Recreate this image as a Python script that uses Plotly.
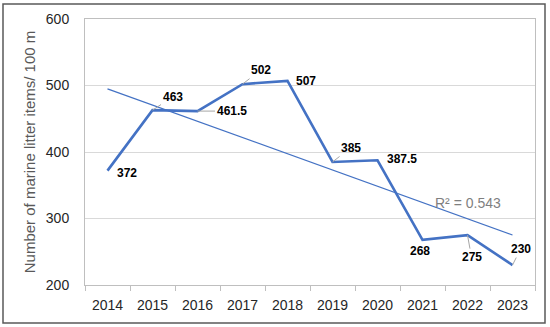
import numpy as np
import plotly.graph_objects as go

years = ["2014", "2015", "2016", "2017", "2018", "2019", "2020", "2021", "2022", "2023"]
values = [372, 463, 461.5, 502, 507, 385, 387.5, 268, 275, 230]
value_labels = ["372", "463", "461.5", "502", "507", "385", "387.5", "268", "275", "230"]
r2_text = "R² = 0.543"

# label offsets (px) and whether a leader line is drawn
label_dx = [19, 20, 34, 18, 18, 18, 24, -3, 4, 8]
label_dy = [2, -13, 0, -14, 0, -14, -1, 11, 22, -16]
leader = [False, True, True, True, False, True, False, False, True, True]

BLUE = "#4472C4"
FONT = "Liberation Sans"

idx = np.arange(len(values))
slope, intercept = np.polyfit(idx, values, 1)
trend = slope * idx + intercept

fig = go.Figure()
fig.add_trace(go.Scatter(x=years, y=trend, mode="lines",
                         line=dict(color=BLUE, width=1.2), hoverinfo="skip"))
fig.add_trace(go.Scatter(x=years, y=values, mode="lines",
                         line=dict(color=BLUE, width=2.6)))

for i, (v, lab) in enumerate(zip(values, value_labels)):
    if leader[i]:
        fig.add_annotation(x=i, y=v, text=f"<b>{lab}</b>", showarrow=True,
                           ax=label_dx[i], ay=label_dy[i], arrowhead=0,
                           arrowwidth=1, arrowcolor="#A6A6A6",
                           font=dict(family=FONT, size=12, color="#000"))
    else:
        fig.add_annotation(x=i, y=v, text=f"<b>{lab}</b>", showarrow=False,
                           xshift=label_dx[i], yshift=-label_dy[i],
                           font=dict(family=FONT, size=12, color="#000"))

fig.add_annotation(xref="paper", yref="paper", x=0.851, y=0.308, text=r2_text,
                   xanchor="center", yanchor="middle",
                   showarrow=False, font=dict(family=FONT, size=14, color="#7F7F7F"))

# outer frame
fig.add_shape(type="rect", xref="paper", yref="paper",
              x0=-82/450, x1=460/450, y0=-38/266, y1=281/266,
              line=dict(color="#595959", width=1.5))

fig.update_layout(
    width=550, height=327,
    margin=dict(l=85, r=15, t=19, b=42, autoexpand=False),
    paper_bgcolor="white", plot_bgcolor="white",
    showlegend=False,
    font=dict(family=FONT, color="#333"),
    xaxis=dict(type="category", tickson="boundaries", ticks="outside", ticklen=5,
               tickcolor="#BFBFBF", showline=True, linecolor="#BFBFBF", linewidth=1,
               mirror=True, showgrid=False, tickfont=dict(size=14, color="#262626"),
               ticklabelstandoff=7, range=[-0.5, 9.5]),
    yaxis=dict(range=[200, 600], dtick=100, showgrid=True, gridcolor="#D9D9D9",
               showline=True, linecolor="#BFBFBF", linewidth=1, mirror=True,
               ticks="outside", ticklen=12, tickcolor="rgba(0,0,0,0)",
               tickfont=dict(size=14, color="#262626"),
               zeroline=False,
               title=dict(text="Number of marine litter items/ 100 m",
                          font=dict(size=15, color="#595959"), standoff=6)),
)

fig.write_html("out.html", config={"displayModeBar": False},
               post_script="document.body.style.margin='0';")
